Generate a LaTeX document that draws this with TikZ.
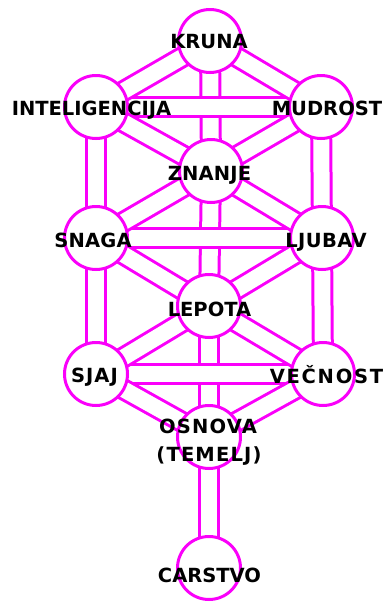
\documentclass[tikz,border=0pt]{standalone}
\usepackage{fontspec}
\newfontfamily\osb{DejaVu Sans}
\usetikzlibrary{backgrounds}
\definecolor{mag}{RGB}{250,0,250}
\newcommand\lsp[1]{\addfontfeature{LetterSpace=#1}}
\begin{document}
\begin{tikzpicture}[x=1pt,y=-1pt,
  sef/.style={circle, draw=mag, line width=3pt, fill=white, minimum size=63pt, inner sep=0pt},
  bar/.style={draw=mag, line width=3pt, double=white, double distance=16pt},
  lbl/.style={font=\osb\bfseries\fontsize{19.5}{19.5}\selectfont, text=black, anchor=base, inner sep=0pt}]
\useasboundingbox (0,0) rectangle (386,603);
\node[sef] (K)  at (210,41)  {};
\node[sef] (IN) at (96,107)  {};
\node[sef] (MU) at (321,107) {};
\node[sef] (ZN) at (211,171) {};
\node[sef] (SN) at (96,238)  {};
\node[sef] (LJ) at (322,238) {};
\node[sef] (LE) at (209,306) {};
\node[sef] (SJ) at (96,374)  {};
\node[sef] (VE) at (323,374) {};
\node[sef] (OS) at (209,437) {};
\node[sef] (CA) at (209,568) {};
\begin{scope}[on background layer]
% vertical paths
\draw[bar] (K.center) -- (ZN.center);
\draw[bar] (ZN.center) -- (LE.center);
\draw[bar] (LE.center) -- (OS.center);
\draw[bar] (OS.center) -- (CA.center);
\draw[bar] (IN.center) -- (SN.center);
\draw[bar] (SN.center) -- (SJ.center);
\draw[bar] (MU.center) -- (LJ.center);
\draw[bar] (LJ.center) -- (VE.center);
% horizontal paths
\draw[bar] (IN.center) -- (MU.center);
\draw[bar] (SN.center) -- (LJ.center);
\draw[bar] (SJ.center) -- (VE.center);
% diagonal paths
\draw[bar] (K.center) -- (IN.center);
\draw[bar] (K.center) -- (MU.center);
\draw[bar] (IN.center) -- (ZN.center);
\draw[bar] (MU.center) -- (ZN.center);
\draw[bar] (ZN.center) -- (SN.center);
\draw[bar] (ZN.center) -- (LJ.center);
\draw[bar] (SN.center) -- (LE.center);
\draw[bar] (LJ.center) -- (LE.center);
\draw[bar] (LE.center) -- (SJ.center);
\draw[bar] (LE.center) -- (VE.center);
\draw[bar] (SJ.center) -- (OS.center);
\draw[bar] (VE.center) -- (OS.center);
\end{scope}
\node[lbl] (tK)  at (209,48)   {KRUNA};
\node[lbl] (tIN) at (91.5,115) {INTELIGENCIJA};
\node[lbl] (tMU) at (327,115)  {MUDROST};
\node[lbl] (tZN) at (209.5,180){\lsp{1}ZNANJE};
\node[lbl] (tSN) at (93,247)   {\lsp{1}SNAGA};
\node[lbl] (tLJ) at (326,247)  {\lsp{2}LJUBAV};
\node[lbl] (tLE) at (209.5,316){LEPOTA};
\node[lbl] (tSJ) at (94.5,382) {\lsp{5}SJAJ};
\node[lbl] (tVE) at (326.5,383){\lsp{9}VEČNOST};
\node[lbl] (tOS) at (208,433)  {\lsp{6}OSNOVA};
\node[lbl] (tTE) at (209,461)  {\lsp{6}(TEMELJ)};
\node[lbl] (tCA) at (209.5,582){CARSTVO};
\end{tikzpicture}
\end{document}
